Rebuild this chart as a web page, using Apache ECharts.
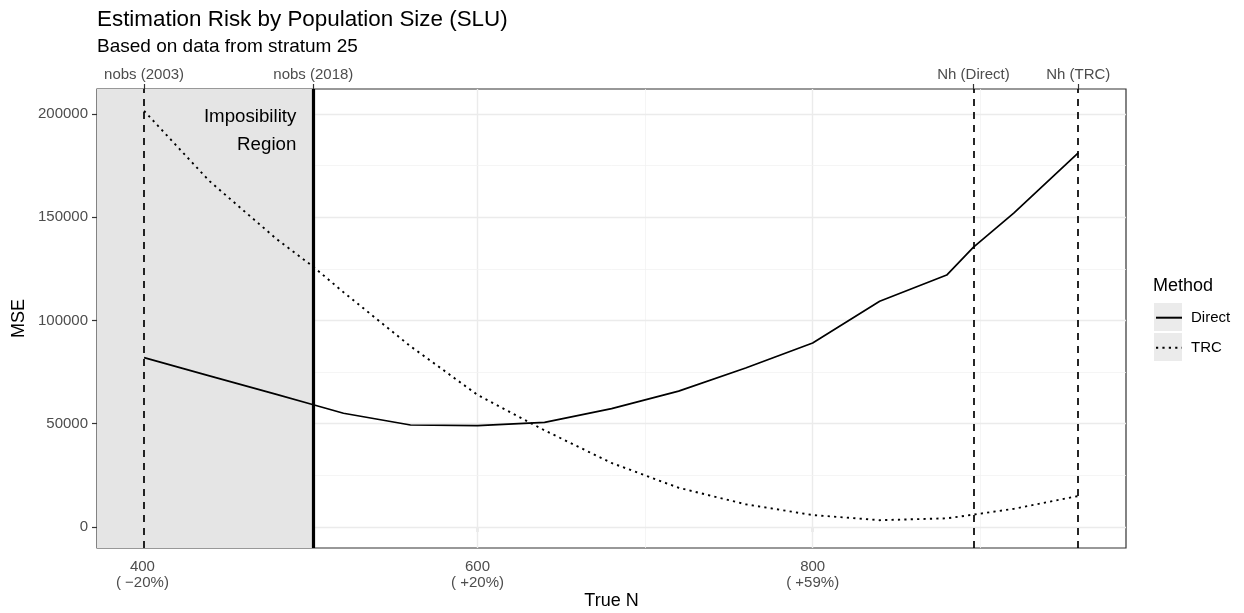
<!DOCTYPE html>
<html>
<head>
<meta charset="utf-8">
<script src="https://cdn.jsdelivr.net/npm/echarts@6/dist/echarts.min.js"></script>
<style>
html,body{margin:0;padding:0;background:#fff;}
#chart{width:1244px;height:613px;}
</style>
</head>
<body>
<div id="chart"></div>
<script>
// ---- data ----
const trueN      = [401, 440, 480, 502, 520, 560, 600, 640, 680, 720, 760, 800, 840, 880, 896, 920, 958.5];
const directMSE  = [82000, 73200, 64200, 59200, 55100, 49400, 49100, 50700, 57300, 65800, 77000, 89100, 109300, 122000, 135500, 152000, 181200];
const trcMSE     = [201500, 167500, 139500, 126000, 113700, 87500, 64000, 46800, 31000, 19000, 11000, 5800, 3300, 4200, 6000, 8800, 15000];

const refValues  = [401, 502, 896, 958.5];
const refLabels  = ['nobs (2003)', 'nobs (2018)', 'Nh (Direct)', 'Nh (TRC)'];

const xTickValues = [400, 600, 800];
const xTickLabels = ['400\n( \u221220%)', '600\n( +20%)', '800\n( +59%)'];
const xMinorValues = [500, 700, 900];
const yTickValues = [0, 50000, 100000, 150000, 200000];
const yMinorValues = [25000, 75000, 125000, 175000];

const seriesNames = ['Direct', 'TRC'];

// ---- axis extents (ggplot-style expansion) ----
const xRange = [372.9, 987];
const yRange = [-10170, 212100];

const FONT = '"Liberation Sans", Arial, Helvetica, sans-serif';
const directPairs = trueN.map((n, i) => [n, directMSE[i]]);
const trcPairs = trueN.map((n, i) => [n, trcMSE[i]]);

const gridMajor = {color: '#EBEBEB', width: 1.4, type: 'solid'};
const gridMinor = {color: '#F2F2F2', width: 0.8, type: 'solid'};
const gridLines = [].concat(
  xTickValues.map(v => ({xAxis: v, lineStyle: gridMajor})),
  xMinorValues.map(v => ({xAxis: v, lineStyle: gridMinor})),
  yTickValues.map(v => ({yAxis: v, lineStyle: gridMajor})),
  yMinorValues.map(v => ({yAxis: v, lineStyle: gridMinor}))
);

const dashStyle = {color: '#000', width: 1.7, type: [7, 6]};

const chart = echarts.init(document.getElementById('chart'));
chart.setOption({
  animation: false,
  textStyle: {fontFamily: FONT},
  title: [
    {text: 'Estimation Risk by Population Size (SLU)', left: 97, top: 8, padding: 0,
     textStyle: {fontSize: 22.4, fontWeight: 'normal', color: '#000', fontFamily: FONT, lineHeight: 24}},
    {text: 'Based on data from stratum 25', left: 97, top: 37, padding: 0,
     textStyle: {fontSize: 19, fontWeight: 'normal', color: '#000', fontFamily: FONT, lineHeight: 20}},
    {text: 'Method', left: 1153, top: 276, padding: 0,
     textStyle: {fontSize: 18, fontWeight: 'normal', color: '#000', fontFamily: FONT, lineHeight: 20}}
  ],
  graphic: [
    {type: 'rect', left: 1154, top: 303, shape: {width: 28, height: 28}, style: {fill: '#EBEBEB'}, z: 0},
    {type: 'rect', left: 1154, top: 333, shape: {width: 28, height: 28}, style: {fill: '#EBEBEB'}, z: 0}
  ],
  legend: {
    data: seriesNames,
    orient: 'vertical',
    left: 1155, top: 306.5,
    padding: 0,
    itemWidth: 26, itemHeight: 28, itemGap: 7.6,
    selectedMode: false,
    z: 5,
    itemStyle: {opacity: 0},
    textStyle: {fontSize: 15, color: '#000', fontFamily: FONT, padding: [0, 0, 0, 4]}
  },
  grid: {left: 97, right: 118, top: 89, bottom: 65, show: true, borderColor: '#333333', borderWidth: 1.2,
         backgroundColor: 'transparent', containLabel: false, outerBoundsMode: 'none'},
  xAxis: [
    {type: 'value', min: xRange[0], max: xRange[1], position: 'bottom',
     name: 'True N', nameLocation: 'middle', nameGap: 44, nameMoveOverlap: false,
     nameTextStyle: {fontSize: 18, color: '#000', fontFamily: FONT},
     axisLine: {show: false}, splitLine: {show: false},
     axisTick: {show: true, customValues: xTickValues, length: 5, lineStyle: {color: '#333333', width: 1.2}},
     axisLabel: {customValues: xTickValues, margin: 11, fontSize: 15, color: '#4D4D4D', lineHeight: 16, fontFamily: FONT,
       formatter: v => xTickLabels[xTickValues.indexOf(v)]}},
    {type: 'value', min: xRange[0], max: xRange[1], position: 'top',
     axisLine: {show: false}, splitLine: {show: false},
     axisTick: {show: true, customValues: refValues, length: 5, lineStyle: {color: '#333333', width: 1.2}},
     axisLabel: {customValues: refValues, margin: 7, fontSize: 15, color: '#4D4D4D', fontFamily: FONT,
       formatter: v => refLabels[refValues.indexOf(v)]}}
  ],
  yAxis: {
    type: 'value', min: yRange[0], max: yRange[1],
    name: 'MSE', nameLocation: 'middle', nameGap: 69, nameRotate: 90, nameMoveOverlap: false,
    nameTextStyle: {fontSize: 18, color: '#000', fontFamily: FONT},
    axisLine: {show: false}, splitLine: {show: false},
    axisTick: {show: true, customValues: yTickValues, length: 5, lineStyle: {color: '#333333', width: 1.2}},
    axisLabel: {customValues: yTickValues, margin: 9, fontSize: 15, color: '#4D4D4D', fontFamily: FONT,
      formatter: v => String(v)}
  },
  series: [
    { // grid lines
      type: 'line', name: '_grid', data: directPairs, symbol: 'none', silent: true, z: 1,
      lineStyle: {opacity: 0}, tooltip: {show: false},
      markLine: {silent: true, z: 1, symbol: ['none', 'none'], label: {show: false}, animation: false, data: gridLines}
    },
    { // impossibility region
      type: 'line', name: '_region', data: directPairs, symbol: 'none', silent: true, z: 2,
      lineStyle: {opacity: 0},
      markArea: {silent: true, z: 2, itemStyle: {color: '#E5E5E5'},
        label: {show: true, position: 'insideTopRight', distance: 0, offset: [-17, 14],
          formatter: 'Imposibility\nRegion', fontSize: 18.7, lineHeight: 28, color: '#000', align: 'right', fontFamily: FONT},
        data: [[{xAxis: xRange[0], yAxis: yRange[0]}, {xAxis: refValues[1], yAxis: yRange[1]}]]}
    },
    {
      type: 'line', name: seriesNames[0], data: directPairs, symbol: 'none', z: 4,
      lineStyle: {color: '#000', width: 1.7, type: 'solid'}, itemStyle: {color: '#000'}
    },
    {
      type: 'line', name: seriesNames[1], data: trcPairs, symbol: 'none', z: 4,
      lineStyle: {color: '#000', width: 1.9, type: [2.2, 4.2]}, itemStyle: {color: '#000'}
    },
    { // reference lines
      type: 'line', name: '_refs', data: directPairs, symbol: 'none', silent: true, z: 5,
      lineStyle: {opacity: 0},
      markLine: {silent: true, z: 6, symbol: ['none', 'none'], label: {show: false}, animation: false,
        data: [
          {xAxis: refValues[0], lineStyle: dashStyle},
          {xAxis: refValues[1], lineStyle: {color: '#000', width: 3.2, type: 'solid'}},
          {xAxis: refValues[2], lineStyle: dashStyle},
          {xAxis: refValues[3], lineStyle: dashStyle}
        ]}
    }
  ]
});
</script>
</body>
</html>
